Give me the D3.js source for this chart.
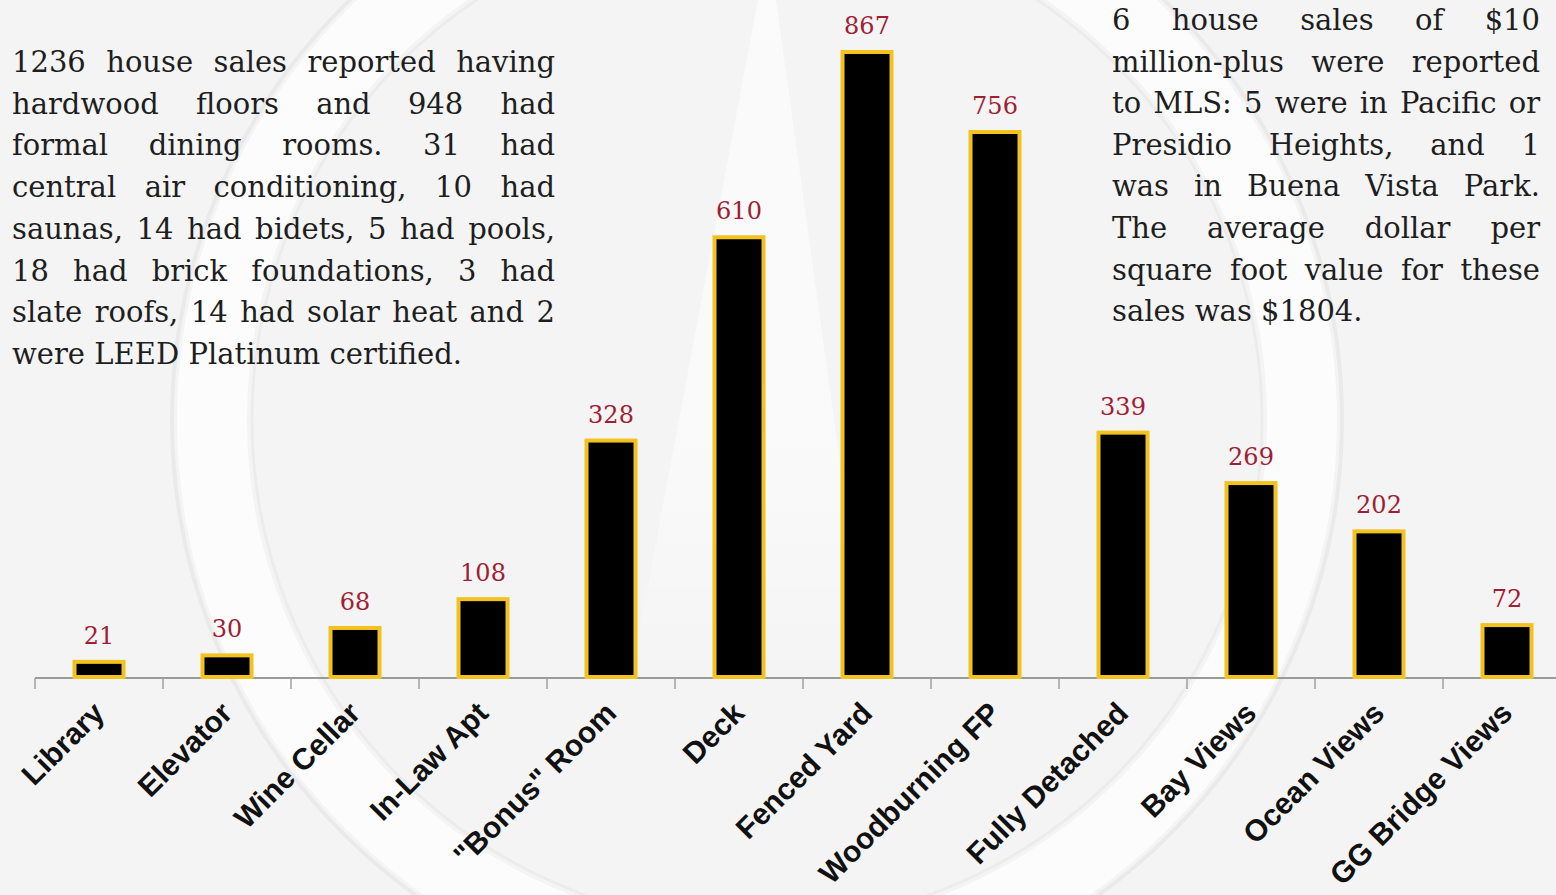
<!DOCTYPE html>
<html lang="en">
<head>
<meta charset="UTF-8">
<title>House sale features</title>
<script src="https://d3js.org/d3.v7.min.js"></script>
<style>
  * { margin: 0; padding: 0; box-sizing: border-box; }
  body { background: #f4f4f5; overflow: hidden; }
  svg { display: block; }
</style>
</head>
<body>
<svg id="chart" width="1556" height="895"></svg>
<script>
// data
const categories = ["Library", "Elevator", "Wine Cellar", "In-Law Apt", "\"Bonus\" Room", "Deck",
  "Fenced Yard", "Woodburning FP", "Fully Detached", "Bay Views", "Ocean Views", "GG Bridge Views"];
const counts = [21, 30, 68, 108, 328, 610, 867, 756, 339, 269, 202, 72];

const leftNote = [
  "1236 house sales reported having",
  "hardwood floors and 948 had",
  "formal dining rooms. 31 had",
  "central air conditioning, 10 had",
  "saunas, 14 had bidets, 5 had pools,",
  "18 had brick foundations, 3 had",
  "slate roofs, 14 had solar heat and 2",
  "were LEED Platinum certified."
];
const rightNote = [
  "6 house sales of $10",
  "million-plus were reported",
  "to MLS: 5 were in Pacific or",
  "Presidio Heights, and 1",
  "was in Buena Vista Park.",
  "The average dollar per",
  "square foot value for these",
  "sales was $1804."
];

const svg = d3.select("#chart");
const W = 1556, H = 895;
const baseY = 677;

// faint watermark in the background
const grad = svg.append("defs").append("linearGradient")
  .attr("id", "wedge").attr("x1", 0).attr("y1", 0).attr("x2", 0).attr("y2", 1);
grad.append("stop").attr("offset", "0%").attr("stop-color", "#fff").attr("stop-opacity", 0.6);
grad.append("stop").attr("offset", "70%").attr("stop-color", "#fff").attr("stop-opacity", 0.5);
grad.append("stop").attr("offset", "100%").attr("stop-color", "#fff").attr("stop-opacity", 0);

const wm = svg.append("g").attr("class", "watermark");
wm.append("circle")
  .attr("cx", 757).attr("cy", 420).attr("r", 585)
  .attr("fill", "none").attr("stroke", "#eaeaeb").attr("stroke-width", 4);
wm.append("circle")
  .attr("cx", 757).attr("cy", 420).attr("r", 545)
  .attr("fill", "none").attr("stroke", "#ffffff").attr("stroke-width", 70).attr("opacity", 0.7);
wm.append("circle")
  .attr("cx", 757).attr("cy", 420).attr("r", 505)
  .attr("fill", "none").attr("stroke", "#ececed").attr("stroke-width", 3);
wm.append("path")
  .attr("d", "M758,0 L776,0 L870,680 L630,680 Z")
  .attr("fill", "url(#wedge)");

// scales
const x = d3.scaleBand().domain(categories).range([35, 1571]).padding(0);
const y = d3.scaleLinear().domain([0, d3.max(counts)]).range([baseY, 52]);
const barW = 49;

const data = categories.map((c, i) => ({ cat: c, val: counts[i] }));

// axis line and ticks on band edges
svg.append("line")
  .attr("x1", x.range()[0]).attr("x2", W)
  .attr("y1", baseY + 1).attr("y2", baseY + 1)
  .attr("stroke", "#9a9a9a").attr("stroke-width", 2);
svg.selectAll(".tick")
  .data(categories)
  .enter().append("line")
  .attr("class", "tick")
  .attr("x1", d => x(d)).attr("x2", d => x(d))
  .attr("y1", baseY + 1).attr("y2", baseY + 12)
  .attr("stroke", "#a0a0a0").attr("stroke-width", 1.5);

// bars
svg.selectAll(".bar")
  .data(data)
  .enter().append("rect")
  .attr("class", "bar")
  .attr("x", d => x(d.cat) + (x.bandwidth() - barW) / 2)
  .attr("y", d => y(d.val))
  .attr("width", barW)
  .attr("height", d => baseY - y(d.val))
  .attr("fill", "#000")
  .attr("stroke", "#f2c21f")
  .attr("stroke-width", 4);

// value labels
svg.selectAll(".val")
  .data(data)
  .enter().append("text")
  .attr("class", "val")
  .attr("x", d => x(d.cat) + x.bandwidth() / 2)
  .attr("y", d => y(d.val) - 18)
  .attr("text-anchor", "middle")
  .attr("font-family", "'DejaVu Serif', serif")
  .attr("font-size", 24)
  .attr("fill", "#a11d33")
  .text(d => d.val);

// category labels, rotated
svg.selectAll(".cat")
  .data(data)
  .enter().append("text")
  .attr("class", "cat")
  .attr("transform", d => `translate(${x(d.cat) + x.bandwidth() / 2 + 7},${baseY + 38}) rotate(-45)`)
  .attr("text-anchor", "end")
  .attr("font-family", "'Liberation Sans', Arial, sans-serif")
  .attr("font-weight", "bold")
  .attr("font-size", 30)
  .attr("fill", "#111")
  .text(d => d.cat);

// justified paragraphs
function paragraph(lines, left, width, top, lineH, size) {
  const g = svg.append("g")
    .attr("font-family", "'DejaVu Serif', serif")
    .attr("font-size", size)
    .attr("fill", "#1e1e1e");
  lines.forEach((line, li) => {
    const words = line.split(" ");
    const ty = top + li * lineH;
    const nodes = words.map(w => g.append("text").attr("y", ty).text(w));
    const widths = nodes.map(n => n.node().getComputedTextLength());
    const total = d3.sum(widths);
    const last = li === lines.length - 1;
    const gap = (last || words.length < 2) ? size * 0.32
      : Math.max(size * 0.2, (width - total) / (words.length - 1));
    let cx = left;
    nodes.forEach((n, i) => {
      n.attr("x", cx);
      cx += widths[i] + gap;
    });
  });
}

paragraph(leftNote, 12, 543, 72, 41.7, 29);
paragraph(rightNote, 1112, 428, 30, 41.6, 29);
</script>
</body>
</html>
